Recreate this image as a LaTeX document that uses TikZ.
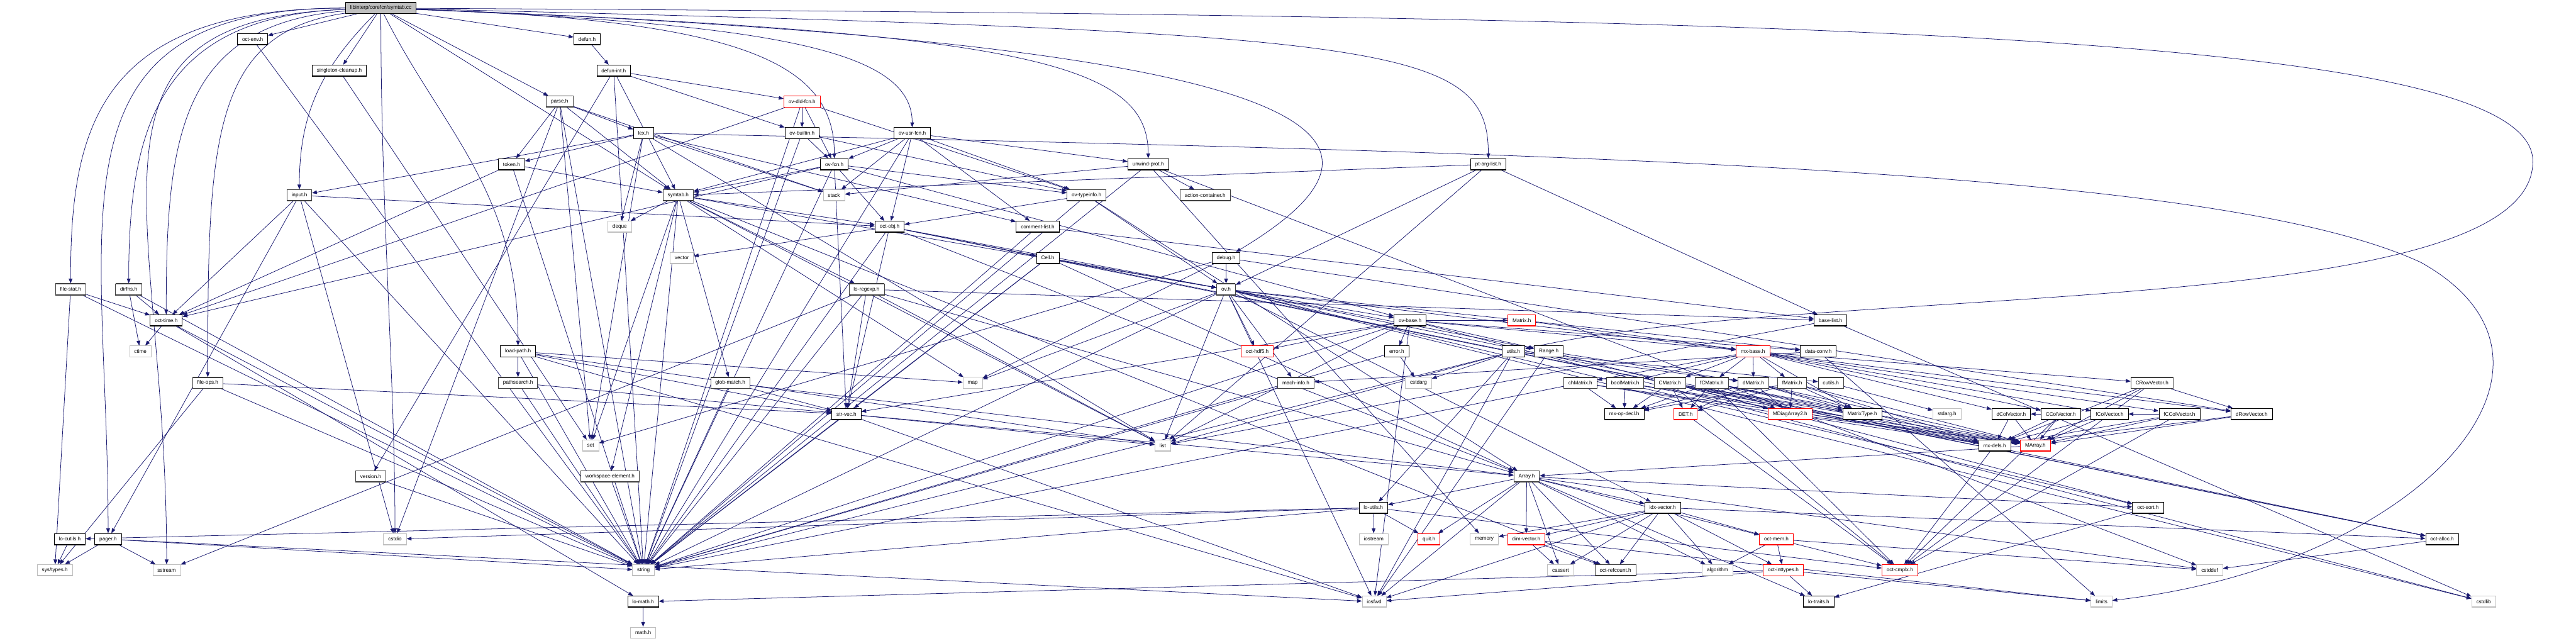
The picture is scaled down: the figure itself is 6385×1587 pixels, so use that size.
\documentclass[tikz,border=0pt]{standalone}
\usepackage{fontspec}
\newfontfamily\gfont{Liberation Sans}
\usetikzlibrary{arrows.meta}
\definecolor{edgeblue}{HTML}{191970}
\definecolor{sysgray}{HTML}{BFBFBF}
\definecolor{topgray}{HTML}{BFBFBF}
\definecolor{dkgray}{HTML}{404040}
\pgfdeclarelayer{bg}
\pgfsetlayers{bg,main}
\newcommand\ES[2]{\foreach \t in {#2}{\draw[edg] (#1) -- (\t);}}
\newcommand\CC[4]{\draw[edg] (#1) .. controls +#2 and +#3 .. (#4);}
\begin{document}
\begin{tikzpicture}[x=0.25pt,y=-0.25pt,
  nd/.style={draw=black, line width=0.3pt, fill=white, minimum height=7pt,
    inner xsep=2.9pt, inner ysep=0pt, font=\gfont\fontsize{3.2}{3.8}\selectfont,
    path picture={\draw[line width=0.9pt,black] (path picture bounding box.south west) -- (path picture bounding box.south east);}},
  dk/.style={nd, draw=dkgray,
    path picture={\draw[line width=0.9pt,dkgray] (path picture bounding box.south west) -- (path picture bounding box.south east);
                  \draw[line width=0.6pt,dkgray] (path picture bounding box.north west) -- (path picture bounding box.north east);}},
  sysn/.style={nd, draw=sysgray,
    path picture={\draw[line width=0.9pt,sysgray] (path picture bounding box.south west) -- (path picture bounding box.south east);}},
  trunc/.style={nd, draw=red,
    path picture={\draw[line width=0.7pt,red] (path picture bounding box.south west) -- (path picture bounding box.south east);}},
  topn/.style={nd, fill=topgray,
    path picture={\draw[line width=0.9pt,dkgray] (path picture bounding box.south west) -- (path picture bounding box.south east);
                  \draw[line width=0.6pt,dkgray] (path picture bounding box.north west) -- (path picture bounding box.north east);}},
  edg/.style={draw=edgeblue, line width=0.3pt, -{Triangle[length=3pt,width=2.3pt]}}]
\useasboundingbox (0,0) rectangle (6385,1587);
% rank 0
\node[topn] (top) at (944,20) {libinterp/corefcn/symtab.cc};
% rank 1
\node[nd] (octenv) at (626,97) {oct-env.h};
\node[nd] (defun) at (1455,97) {defun.h};
% rank 2
\node[nd] (singleton) at (841,175) {singleton-cleanup.h};
\node[nd] (defunint) at (1521,175) {defun-int.h};
% rank 3
\node[dk] (parse) at (1387,252) {parse.h};
\node[trunc] (ovdld) at (1988,252) {ov-dld-fcn.h};
% rank 4
\node[nd] (lex) at (1595,330) {lex.h};
\node[nd] (ovbuiltin) at (1988,330) {ov-builtin.h};
\node[nd] (ovusr) at (2261,330) {ov-usr-fcn.h};
% rank 5
\node[nd] (token) at (1268,407) {token.h};
\node[nd] (ovfcn) at (2068,407) {ov-fcn.h};
\node[nd] (unwind) at (2846,407) {unwind-prot.h};
\node[nd] (ptarg) at (3689,407) {pt-arg-list.h};
% rank 6
\node[dk] (input) at (742,484) {input.h};
\node[dk] (symtabh) at (1681,484) {symtab.h};
\node[sysn] (stack) at (2067,484) {stack};
\node[dk] (ovtype) at (2693,484) {ov-typeinfo.h};
\node[dk] (actcont) at (2987,484) {action-container.h};
% rank 7
\node[sysn] (deque) at (1536,562) {deque};
\node[nd] (octobj) at (2205,562) {oct-obj.h};
\node[nd] (comment) at (2572,562) {comment-list.h};
% rank 8
\node[sysn] (vector) at (1690,639) {vector};
\node[nd] (cell) at (2597,639) {Cell.h};
\node[nd] (debug) at (3039,639) {debug.h};
% rank 9
\node[dk] (filestat) at (175,717) {file-stat.h};
\node[dk] (dirfns) at (319,717) {dirfns.h};
\node[dk] (loregexp) at (2148,717) {lo-regexp.h};
\node[dk] (ov) at (3039,717) {ov.h};
% rank 10
\node[nd] (octtime) at (412,794) {oct-time.h};
\node[nd] (ovbase) at (3495,794) {ov-base.h};
\node[trunc] (matrix) at (3772,794) {Matrix.h};
\node[nd] (baselist) at (4537,794) {base-list.h};
% rank 11
\node[sysn] (ctime) at (348,871) {ctime};
\node[nd] (loadpath) at (1284,871) {load-path.h};
\node[trunc] (hdf5) at (3116,871) {oct-hdf5.h};
\node[nd] (error) at (3462,871) {error.h};
\node[nd] (utils) at (3751,871) {utils.h};
\node[nd] (range) at (3839,871) {Range.h};
\node[trunc] (mxbase) at (4345,871) {mx-base.h};
\node[nd] (dataconv) at (4507,871) {data-conv.h};
% rank 12
\node[dk] (fileops) at (515,949) {file-ops.h};
\node[dk] (pathsearch) at (1284,949) {pathsearch.h};
\node[dk] (globmatch) at (1810,949) {glob-match.h};
\node[sysn] (map) at (2411,949) {map};
\node[dk] (machinfo) at (3212,949) {mach-info.h};
\node[sysn] (cstdarg) at (3516,949) {cstdarg};
\node[dk] (chmatrix) at (3917,949) {chMatrix.h};
\node[dk] (boolmatrix) at (4028,949) {boolMatrix.h};
\node[dk] (cmatrix) at (4139,949) {CMatrix.h};
\node[dk] (fcmatrix) at (4243,949) {fCMatrix.h};
\node[dk] (dmatrix) at (4346,949) {dMatrix.h};
\node[dk] (fmatrix) at (4442,949) {fMatrix.h};
\node[dk] (cutils) at (4538,949) {cutils.h};
\node[dk] (crowvec) at (5334,949) {CRowVector.h};
% rank 13
\node[nd] (strvec) at (2098,1026) {str-vec.h};
\node[nd] (mxopdecl) at (4026,1026) {mx-op-decl.h};
\node[trunc] (det) at (4178,1026) {DET.h};
\node[trunc] (mdiag) at (4437,1026) {MDiagArray2.h};
\node[nd] (mtype) at (4616,1026) {MatrixType.h};
\node[sysn] (stdargh) at (4826,1026) {stdarg.h};
\node[nd] (dcolvec) at (4985,1026) {dColVector.h};
\node[nd] (ccolvec) at (5108,1026) {CColVector.h};
\node[nd] (fcolvec) at (5229,1026) {fColVector.h};
\node[nd] (fccolvec) at (5402,1026) {fCColVector.h};
\node[nd] (drowvec) at (5581,1026) {dRowVector.h};
% rank 14
\node[sysn] (set) at (1464,1104) {set};
\node[sysn] (list) at (2882,1104) {list};
\node[nd] (mxdefs) at (4944,1104) {mx-defs.h};
\node[trunc] (marray) at (5045,1104) {MArray.h};
% rank 15
\node[dk] (version) at (919,1181) {version.h};
\node[dk] (wselem) at (1512,1181) {workspace-element.h};
\node[dk] (array) at (3784,1181) {Array.h};
% rank 16
\node[nd] (loutils) at (3404,1258) {lo-utils.h};
\node[nd] (idxvec) at (4121,1258) {idx-vector.h};
\node[nd] (octsort) at (5324,1258) {oct-sort.h};
% rank 17
\node[nd] (locutils) at (173,1336) {lo-cutils.h};
\node[nd] (pager) at (268,1336) {pager.h};
\node[sysn] (cstdio) at (979,1336) {cstdio};
\node[sysn] (iostream) at (3405,1336) {iostream};
\node[trunc] (quit) at (3542,1336) {quit.h};
\node[sysn] (memory) at (3679,1336) {memory};
\node[trunc] (dimvec) at (3783,1336) {dim-vector.h};
\node[trunc] (octmem) at (4403,1336) {oct-mem.h};
\node[nd] (octalloc) at (6053,1336) {oct-alloc.h};
% rank 18
\node[sysn] (systypes) at (136,1413) {sys/types.h};
\node[sysn] (sstream) at (413,1413) {sstream};
\node[sysn] (string) at (1595,1413) {string};
\node[sysn] (cassert) at (3868,1413) {cassert};
\node[dk] (refcount) at (4004,1413) {oct-refcount.h};
\node[sysn] (algorithm) at (4257,1413) {algorithm};
\node[trunc] (inttypes) at (4420,1413) {oct-inttypes.h};
\node[trunc] (cmplx) at (4709,1413) {oct-cmplx.h};
\node[sysn] (cstddef) at (5477,1413) {cstddef};
% rank 19
\node[nd] (lomath) at (1594,1491) {lo-math.h};
\node[sysn] (iosfwd) at (3406,1491) {iosfwd};
\node[nd] (lotraits) at (4508,1491) {lo-traits.h};
\node[sysn] (limits) at (5209,1491) {limits};
\node[sysn] (cstdlib) at (6156,1491) {cstdlib};
% rank 20
\node[sysn] (mathh) at (1594,1568) {math.h};

\begin{pgfonlayer}{bg}
% top node
\ES{top}{octenv,singleton,defun,parse,symtabh}
\CC{top}{(-150,150)}{(0,-200)}{input}
\CC{top}{(0,500)}{(0,-400)}{cstdio}
\CC{top}{(-700,0)}{(0,-400)}{filestat}
\CC{top}{(-550,20)}{(0,-400)}{dirfns}
\CC{top}{(-500,40)}{(0,-450)}{octtime}
\CC{top}{(-420,60)}{(0,-600)}{fileops}
\CC{top}{(-850,0)}{(0,-800)}{pager}
\CC{top}{(-800,30)}{(0,-900)}{sstream}
\CC{top}{(150,300)}{(0,-400)}{loadpath}
\CC{top}{(900,30)}{(0,-250)}{ovfcn}
\CC{top}{(1000,40)}{(0,-200)}{ovusr}
\CC{top}{(1600,60)}{(0,-250)}{unwind}
\CC{top}{(2500,60)}{(0,-300)}{ptarg}
\CC{top}{(2400,90)}{(500,-300)}{debug}
\draw[edg] (top) .. controls (4500,40) and (6278,80) .. (6278,400)
   .. controls (6278,800) and (4500,700) .. (utils);
\draw[edg] (lex) .. controls (4000,380) and (5500,420) .. (6000,650)
   .. controls (6450,900) and (6000,1400) .. (limits);
% others
\ES{octenv}{string}
\ES{singleton}{set}
\ES{defun}{defunint}
\ES{defunint}{string,ovbuiltin,ovdld,symtabh,version}
\ES{parse}{cstdio,string,stack,set,lex,symtabh,token}
\ES{lex}{deque,list,set,stack,comment,input,token}
\ES{token}{string,octtime,symtabh}
\ES{ovdld}{string,octtime,ovfcn,ovbuiltin,ovtype}
\ES{ovbuiltin}{string,ovfcn,ovtype}
\ES{ovusr}{string,stack,comment,octobj,ovfcn,ovtype,symtabh,unwind}
\ES{ovfcn}{string,octtime,strvec,octobj,ovbase,ovtype,symtabh}
\ES{unwind}{cstddef,string,stack,memory,actcont}
\ES{ptarg}{list,baselist,ov,symtabh}
\ES{input}{cstdio,string,octtime,octobj,pager}
\ES{symtabh}{deque,list,map,set,string,globmatch,loregexp,octobj,wselem,refcount,ov}
\ES{ovtype}{string,octobj,ov,array}
\ES{octobj}{string,vector,octalloc,strvec,cell,ov,array}
\ES{comment}{string,baselist}
\ES{cell}{string,array,octalloc,strvec,ov}
\ES{debug}{map,set,ov,drowvec}
\ES{loregexp}{list,sstream,string,array,baselist,strvec}
\ES{ov}{cstdlib,iosfwd,string,list,map,range,dataconv,idxvec,machinfo,mxbase,octalloc,hdf5,octsort,ovbase}
\ES{ovbase}{cstdlib,iosfwd,list,string,range,dataconv,mxbase,strvec,error,hdf5,matrix}
\ES{baselist}{list,cstdlib}
\ES{error}{cstdarg,string}
\ES{utils}{cstdarg,iosfwd,string,list,dmatrix,loutils,cutils}
\ES{range}{iosfwd,dmatrix,octsort}
\ES{matrix}{mxbase}
\ES{mxbase}{chmatrix,boolmatrix,cmatrix,fcmatrix,dmatrix,fmatrix,mtype,dcolvec,ccolvec,fcolvec,fccolvec,drowvec,crowvec}
\ES{dataconv}{limits,machinfo}
\ES{machinfo}{string}
\ES{cutils}{stdargh}
\ES{chmatrix}{string,mxopdecl,mxdefs,marray}
\ES{boolmatrix}{mxopdecl,mxdefs,marray}
\ES{cmatrix}{det,marray,mtype,mxdefs,mxopdecl,cmplx,mdiag}
\ES{fcmatrix}{det,marray,mtype,mxdefs,mxopdecl,cmplx,mdiag}
\ES{dmatrix}{det,marray,mtype,mxdefs,mxopdecl,mdiag}
\ES{fmatrix}{det,marray,mtype,mxdefs,mxopdecl,mdiag}
\ES{crowvec}{marray,drowvec,mxdefs,cmplx}
\ES{dcolvec}{marray,mxdefs}
\ES{ccolvec}{marray,dcolvec,mxdefs,cmplx}
\ES{fcolvec}{marray,mxdefs}
\ES{fccolvec}{marray,fcolvec,mxdefs,cmplx}
\ES{drowvec}{marray,mxdefs}
\ES{det}{cmplx}
\ES{mdiag}{marray}
\ES{marray}{array}
\ES{mxdefs}{cmplx}
\ES{version}{string}
\ES{wselem}{string}
\ES{array}{cassert,cstddef,algorithm,iosfwd,dimvec,idxvec,lotraits,loutils,octsort,quit,octmem,refcount}
\ES{loutils}{cstdio,iostream,string,quit,locutils,cmplx}
\ES{idxvec}{cassert,algorithm,iosfwd,memory,dimvec,inttypes,octalloc,octmem,refcount}
\ES{octsort}{lotraits}
\ES{dimvec}{cassert,refcount,limits}
\ES{octmem}{cstddef,algorithm,cmplx,inttypes}
\ES{octalloc}{cstddef}
\ES{inttypes}{iosfwd,limits,lotraits,lomath}
\ES{lomath}{mathh}
\ES{filestat}{string,systypes,octtime}
\ES{dirfns}{ctime,octtime,string}
\ES{octtime}{ctime,string,lomath}
\ES{fileops}{string,systypes,strvec}
\ES{loadpath}{iosfwd,list,map,string,pathsearch,strvec}
\ES{pathsearch}{string,strvec}
\ES{globmatch}{string,array,strvec}
\ES{strvec}{iosfwd,list,string,array}
\ES{pager}{iosfwd,sstream,string,systypes}
\ES{locutils}{systypes}
\end{pgfonlayer}
\end{tikzpicture}
\end{document}
